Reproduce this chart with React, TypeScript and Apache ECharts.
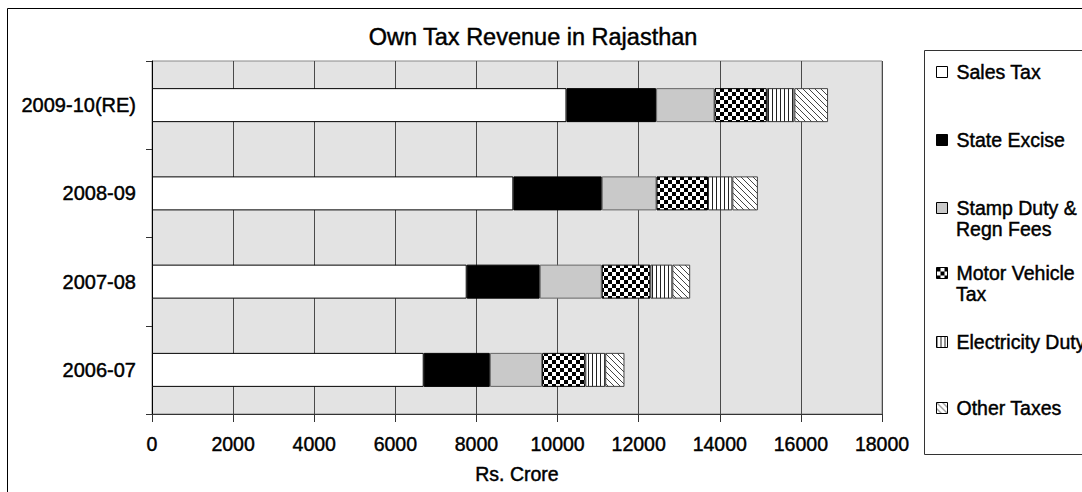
import React, { useEffect, useRef } from "react";
import * as echarts from "echarts";

// Financial years, top to bottom
const categories = ["2009-10(RE)", "2008-09", "2007-08", "2006-07"];

// Own tax revenue components, Rs. Crore (same order as categories)
const salesTax = [10220, 8910, 7760, 6700];
const stateExcise = [2210, 2180, 1800, 1630];
const stampDuty = [1440, 1350, 1530, 1290];
const motorVehicleTax = [1290, 1270, 1200, 1065];
const electricityDuty = [680, 600, 540, 490];
const otherTaxes = [830, 630, 440, 475];

const seriesNames = [
  "Sales Tax",
  "State Excise",
  "Stamp Duty & Regn Fees",
  "Motor Vehicle Tax",
  "Electricity Duty",
  "Other Taxes",
];

// Value axis ticks
const xMin = 0;
const xMax = 18000;
const xStep = 2000;

const FONT = '"Liberation Sans", Arial, Helvetica, sans-serif';
// slight outline to give the heavier look of the printed labels
const INK = { textBorderColor: "#000", textBorderWidth: 0.45 };

// Builds a small tiled canvas used as a fill pattern
function makePattern(
  w: number,
  h: number,
  ink: string,
  paper: string,
  isInk: (x: number, y: number) => boolean
) {
  const c = document.createElement("canvas");
  c.width = w;
  c.height = h;
  const ctx = c.getContext("2d")!;
  ctx.fillStyle = paper;
  ctx.fillRect(0, 0, w, h);
  ctx.fillStyle = ink;
  for (let y = 0; y < h; y++) {
    for (let x = 0; x < w; x++) {
      if (isInk(x, y)) ctx.fillRect(x, y, 1, 1);
    }
  }
  return { image: c, repeat: "repeat" } as any;
}

export default function App() {
  const ref = useRef<HTMLDivElement>(null);

  useEffect(() => {
    if (!ref.current) return;
    const chart = echarts.init(ref.current, undefined, { renderer: "svg" });

    const checker = makePattern(8, 8, "#000", "#fff", (x, y) =>
      ((Math.floor(x / 4) + Math.floor(y / 4)) % 2) === 0
    );
    const vertical = makePattern(4, 4, "#222", "#fff", (x) => x === 0);
    const diagonal = makePattern(6, 6, "#444", "#fff", (x, y) => (x - y + 6) % 6 === 0);

    const fills: any[] = ["#ffffff", "#000000", "#c9c9c9", checker, vertical, diagonal];
    const borders = ["#000", "#000", "#666", "#000", "#333", "#444"];
    const values = [salesTax, stateExcise, stampDuty, motorVehicleTax, electricityDuty, otherTaxes];

    const series = seriesNames.map((name, i) => ({
      name,
      type: "bar",
      stack: "total",
      barWidth: 34,
      data: values[i],
      itemStyle: { color: fills[i], borderColor: borders[i], borderWidth: 1 },
    }));

    // Legend rows: centre line of each entry's first line
    const legendRows = [72, 140, 208, 273, 342, 408];
    const firstLines = ["Sales Tax", "State Excise", "Stamp Duty &", "Motor Vehicle", "Electricity Duty", "Other Taxes"];
    const legendLeft = 936;
    const legends = seriesNames.map((name, i) => ({
      data: [name],
      orient: "vertical",
      left: legendLeft,
      top: legendRows[i] - 10.5,
      padding: 0,
      itemWidth: 11,
      itemHeight: 11,
      icon: "rect",
      selectedMode: false,
      formatter: () => firstLines[i],
      itemStyle: { borderColor: "#000", borderWidth: 1 },
      textStyle: {
        fontFamily: FONT,
        fontSize: 19.5,
        lineHeight: 21,
        color: "#000",
        padding: [0, 0, 0, 4],
        ...INK,
      },
    }));

    const secondLine = (text: string, y: number) => ({
      type: "text",
      x: 956,
      y,
      style: {
        text,
        fontFamily: FONT,
        fontSize: 19.5,
        fill: "#000",
        stroke: "#000",
        lineWidth: 0.45,
        align: "left",
        verticalAlign: "middle",
      },
    });

    chart.setOption({
      animation: false,
      backgroundColor: "#ffffff",
      grid: {
        left: 152,
        top: 61,
        right: 200,
        bottom: 78,
        show: true,
        backgroundColor: "#e3e3e3",
        borderColor: "#8a8a8a",
        borderWidth: 1,
      },
      legend: legends,
      xAxis: {
        type: "value",
        min: xMin,
        max: xMax,
        interval: xStep,
        name: "Rs. Crore",
        nameLocation: "middle",
        nameGap: 50,
        nameTextStyle: { fontFamily: FONT, fontSize: 19.5, color: "#000", ...INK },
        axisLine: { show: true, lineStyle: { color: "#333", width: 1 } },
        axisTick: { show: true, length: 8, lineStyle: { color: "#333" } },
        axisLabel: {
          fontFamily: FONT,
          fontSize: 19.5,
          color: "#000",
          margin: 20,
          formatter: (v: number) => String(v),
          ...INK,
        },
        splitLine: { show: true, lineStyle: { color: "#4a4a4a", width: 1 } },
      },
      yAxis: {
        type: "category",
        data: categories,
        inverse: true,
        axisLine: { show: true, lineStyle: { color: "#000", width: 1 } },
        axisTick: { show: true, length: 6, lineStyle: { color: "#333" } },
        axisLabel: { fontFamily: FONT, fontSize: 20, color: "#000", margin: 16, ...INK },
        splitLine: { show: false },
      },
      graphic: [
        {
          type: "rect",
          silent: true,
          z: -10,
          shape: { x: 7.5, y: 8.5, width: 1300, height: 700 },
          style: { fill: "none", stroke: "#000", lineWidth: 1 },
        },
        {
          type: "rect",
          silent: true,
          shape: { x: 924.5, y: 50.5, width: 300, height: 404 },
          style: { fill: "none", stroke: "#333", lineWidth: 1 },
        },
        {
          type: "text",
          x: 533,
          y: 37,
          style: {
            text: "Own Tax Revenue in Rajasthan",
            fontFamily: FONT,
            fontSize: 23.5,
            fill: "#000",
            stroke: "#000",
            lineWidth: 0.45,
            align: "center",
            verticalAlign: "middle",
          },
        },
        secondLine("Regn Fees", 229),
        secondLine("Tax", 294),
      ],
      series,
    });

    return () => chart.dispose();
  }, []);

  return (
    <div
      ref={ref}
      style={{ position: "fixed", left: 0, top: 0, width: 1082, height: 492, background: "#fff" }}
    />
  );
}
